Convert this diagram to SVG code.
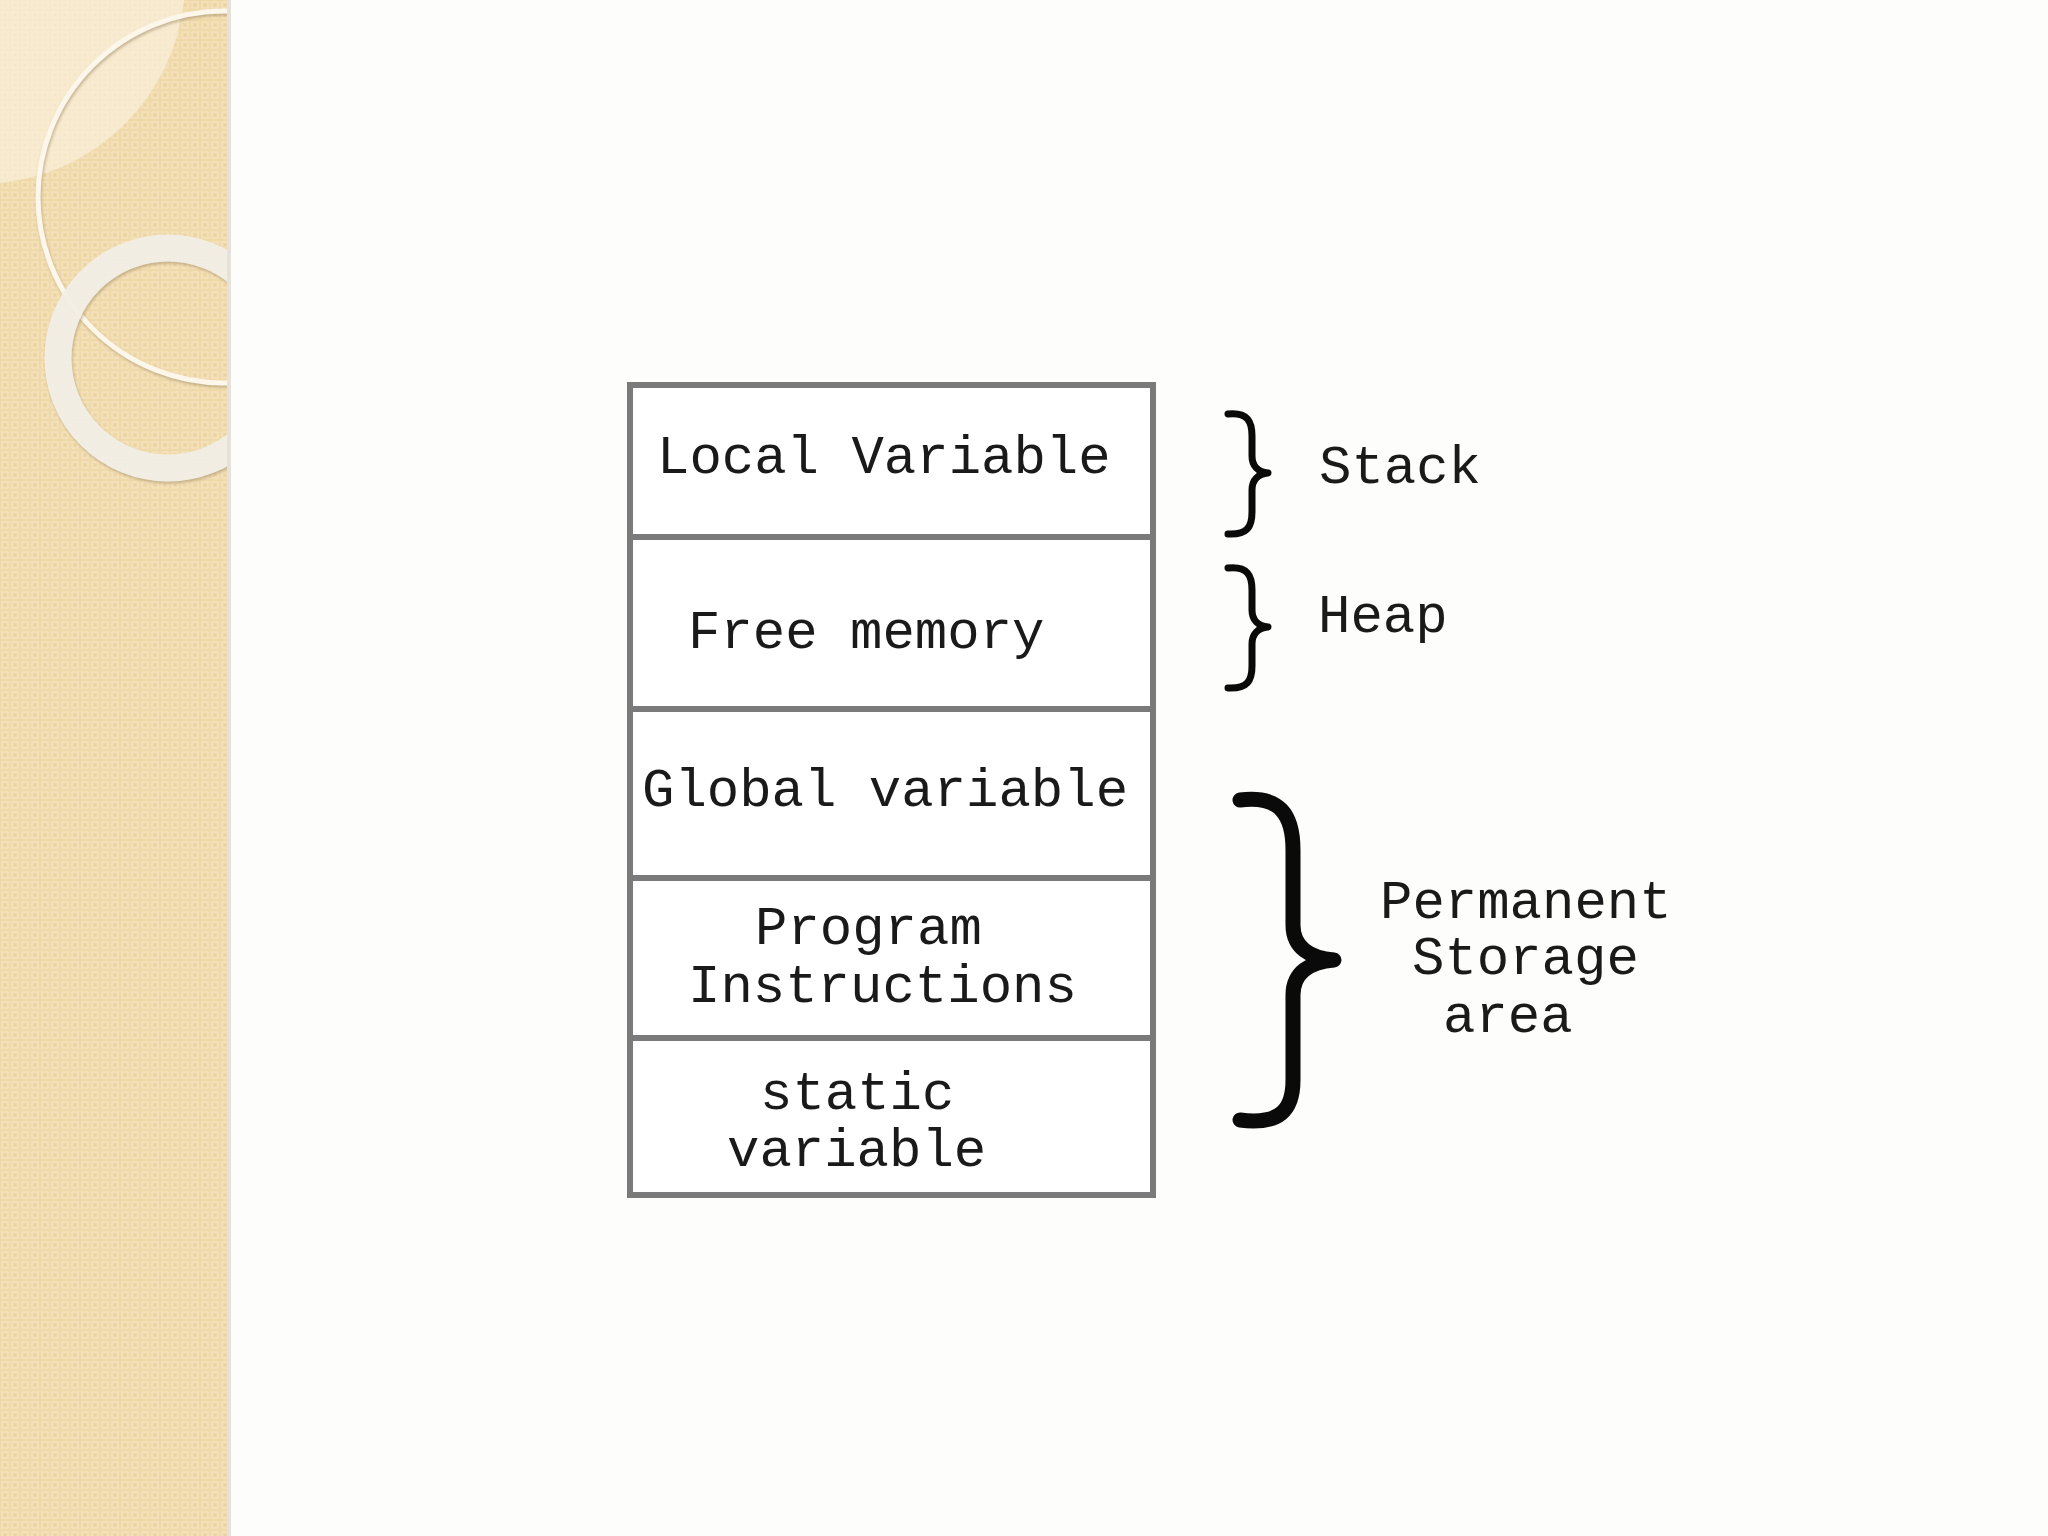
<svg xmlns="http://www.w3.org/2000/svg" width="2048" height="1536" viewBox="0 0 2048 1536">
<style>
.cell{fill:#ffffff;stroke:#7a7a7a;stroke-width:6}
.t{font-family:"Liberation Mono","Courier New",monospace;font-size:54px;fill:#1a1a1a}
.br{fill:none;stroke:#0a0a0a;stroke-linecap:round;stroke-linejoin:round}
</style>
<defs>
<pattern id="chk" width="10" height="10" patternUnits="userSpaceOnUse">
<rect width="10" height="10" fill="#f0d9a9"/>
<rect x="2" y="2" width="6" height="6" fill="none" stroke="#f6e5c2" stroke-width="1.3"/>
<rect x="4.3" y="4.3" width="1.4" height="1.4" fill="#e6cc98"/>
</pattern>
<filter id="sh" x="-20%" y="-20%" width="140%" height="140%">
<feDropShadow dx="1" dy="2" stdDeviation="1.5" flood-color="#9a8660" flood-opacity="0.55"/>
</filter>
<clipPath id="band"><rect x="0" y="0" width="227" height="1536"/></clipPath>
</defs>
<rect width="2048" height="1536" fill="#fdfdfb"/>
<g id="side-band">
<rect x="0" y="0" width="227" height="1536" fill="url(#chk)"/>
<rect x="227" y="0" width="4" height="1536" fill="#e6e2da"/>
<g clip-path="url(#band)">
<path d="M0,0 H184 A205 205 0 0 1 0,183 Z" fill="#faf0dc" opacity="0.7"/>
<circle cx="224" cy="197" r="186" fill="none" stroke="#fcf7ea" stroke-width="5" filter="url(#sh)"/>
<circle cx="168" cy="358" r="110" fill="none" stroke="#f3efe6" stroke-width="27" opacity="0.95" filter="url(#sh)"/>
</g>
</g>
<g id="memory">
<g id="local-variable"><rect class="cell" x="630" y="385" width="523" height="152"/><text class="t" x="657" y="473">Local Variable</text></g>
<g id="free-memory"><rect class="cell" x="630" y="537" width="523" height="172"/><text class="t" x="688" y="648">Free memory</text></g>
<g id="global-variable"><rect class="cell" x="630" y="709" width="523" height="169"/><text class="t" x="642" y="806">Global variable</text></g>
<g id="program-instructions"><rect class="cell" x="630" y="878" width="523" height="160"/><text class="t" x="755" y="944">Program</text><text class="t" x="688" y="1002">Instructions</text></g>
<g id="static-variable"><rect class="cell" x="630" y="1038" width="523" height="157"/><text class="t" x="760" y="1109">static</text><text class="t" x="727" y="1166">variable</text></g>
</g>
<g id="brackets">
<g id="stack"><path class="br" stroke-width="7" d="M1228,414 C1248,412 1252,422 1252,436 L1252,456 C1252,466 1258,472 1268,473 C1258,474 1252,480 1252,490 L1252,512 C1252,526 1248,535 1228,534"/><text class="t" x="1319" y="483">Stack</text></g>
<g id="heap"><path class="br" stroke-width="7" d="M1228,568 C1248,566 1252,576 1252,590 L1252,610 C1252,620 1258,626 1268,627 C1258,628 1252,634 1252,644 L1252,666 C1252,680 1248,689 1228,688"/><text class="t" x="1318" y="632">Heap</text></g>
<g id="permanent"><path class="br" stroke-width="15" d="M1240,800 C1280,795 1293,815 1293,850 L1293,925 C1293,948 1310,958 1334,960 C1310,962 1293,972 1293,995 L1293,1080 C1293,1110 1280,1125 1240,1120"/><text class="t" x="1380" y="918">Permanent</text><text class="t" x="1412" y="974">Storage</text><text class="t" x="1443" y="1032">area</text></g>
</g>
</svg>
